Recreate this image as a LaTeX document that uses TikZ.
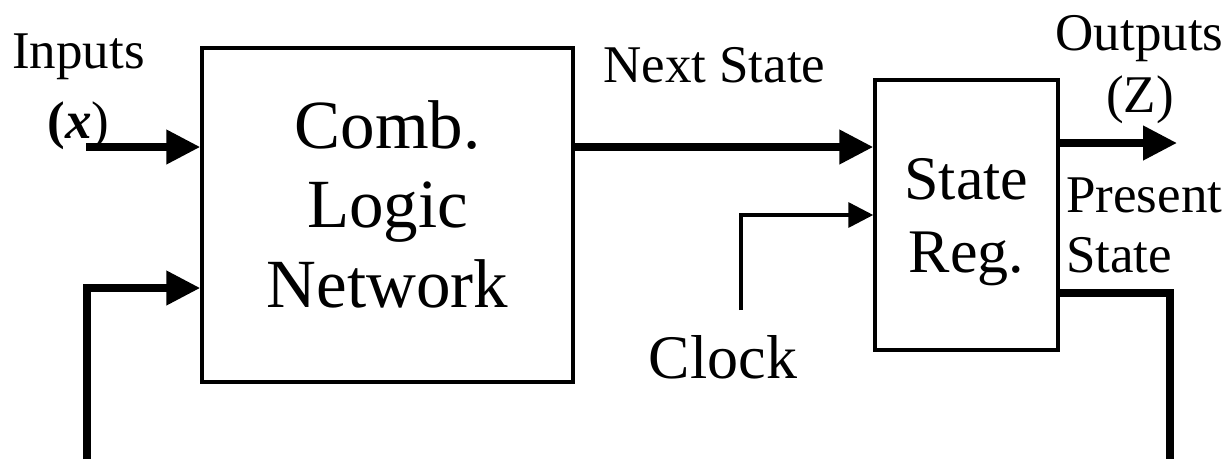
\documentclass[tikz,border=0pt]{standalone}
\usepackage{fontspec}
\setmainfont{Liberation Serif}
\usetikzlibrary{arrows.meta,calc}

\begin{document}
\begin{tikzpicture}[x=1pt,y=-1pt,
  blk/.style={draw, line width=3.5pt, inner sep=0pt, align=center},
  lbl/.style={inner sep=0pt, font=\fontsize{53}{60}\selectfont},
  bus/.style={line width=7.5pt},
  wire/.style={line width=3.5pt},
  bigtip/.style={-{Triangle[length=34pt,width=33pt]}},
  smalltip/.style={-{Triangle[length=25pt,width=25pt]}},
]
\useasboundingbox (0,0) rectangle (1232,459);

% blocks
\node[blk, minimum width=371pt, minimum height=334pt] (cl) at (387.5,215) {};
\node[inner sep=0pt, align=center, font=\fontsize{69}{79.5}\selectfont] (cltxt) at (387.5,204) {Comb.\\Logic\\Network};
\node[blk, minimum width=183pt, minimum height=270pt] (sr) at (966.5,215) {};
\node[inner sep=0pt, align=center, font=\fontsize{62}{73}\selectfont] (srtxt) at (966.5,222) {State\\Reg.};

% labels
\node[lbl, anchor=base west] (inlbl) at (12,68) {Inputs};
\node[lbl, anchor=base] (xlbl) at (78.5,138) {{\bfseries(\itshape x})};
\node[lbl, anchor=base west] (nslbl) at (603,82) {Next State};
\node[lbl, anchor=base] (outlbl) at (1139.5,50) {Outputs};
\node[lbl, anchor=base] (zlbl) at (1140,112) {(Z)};
\node[lbl, anchor=base west] (pslbl1) at (1066,212) {Present};
\node[lbl, anchor=base west] (pslbl2) at (1066,272) {State};
\node[inner sep=0pt, anchor=base, font=\fontsize{62}{70}\selectfont] (clk) at (723,378) {Clock};

% free ends of the connectors
\coordinate (xin) at (86,147);
\coordinate (fbL) at (87,459);
\coordinate (fbR) at (1170,459);
\coordinate (zout) at (1177,143);
\coordinate (clkin) at (741,310);

% connectors
\draw[bus, bigtip] (xin) -- (xin -| cl.west);
\draw[bus, bigtip] (fbL) |- ([yshift=-73pt]cl.west);
\draw[bus, bigtip] ([yshift=68pt]cl.east) -- ([yshift=68pt]sr.west);
\draw[wire, smalltip] (clkin) |- (sr.west);
\draw[bus, bigtip] ([yshift=72pt]sr.east) -- (zout);
\draw[bus] ([yshift=-78pt]sr.east) -| (fbR);
\end{tikzpicture}
\end{document}
